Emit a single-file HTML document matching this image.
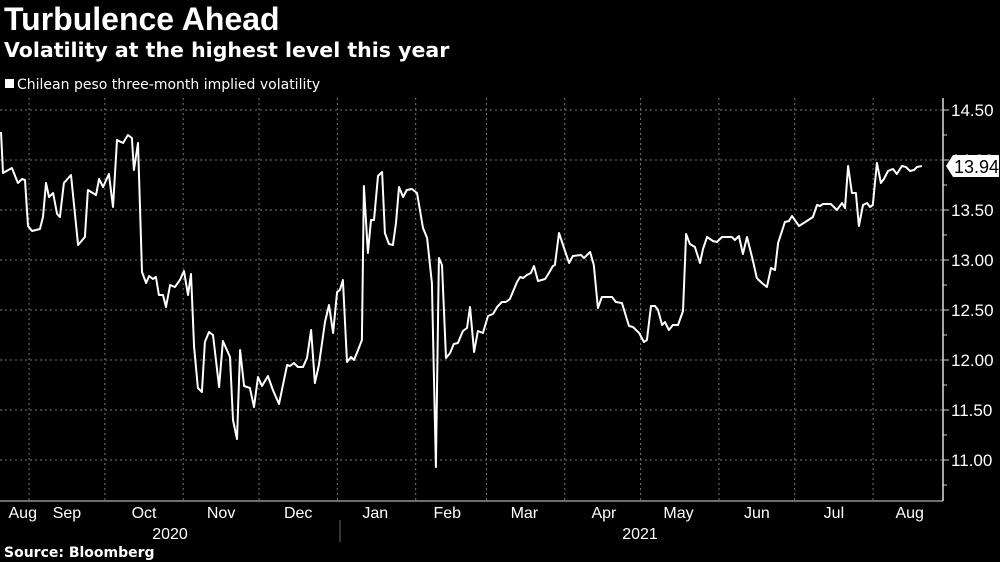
<!DOCTYPE html>
<html><head><meta charset="utf-8">
<style>
body{margin:0;background:#000;width:1000px;height:562px;overflow:hidden;font-family:"Liberation Sans Narrow","Liberation Sans",sans-serif;color:#fff}
svg{position:absolute;left:0;top:0}
</style></head>
<body>
<svg id="chart" width="1000" height="562">
<text x="4" y="30" font-size="32" font-weight="bold" fill="#fff" font-family="Liberation Sans, sans-serif">Turbulence Ahead</text>
<text x="4" y="57" font-size="20.5" font-weight="bold" fill="#fff" font-family="DejaVu Sans, sans-serif">Volatility at the highest level this year</text>
<rect x="5" y="79" width="9" height="9" fill="#fff"/>
<text x="17" y="89" font-size="14" fill="#fff" font-family="DejaVu Sans, sans-serif">Chilean peso three-month implied volatility</text>
<g id="grid"></g>
<g id="axes"></g>
<g id="series"></g>
<text x="4" y="557" font-size="14" font-weight="bold" fill="#fff" font-family="DejaVu Sans, sans-serif">Source: Bloomberg</text>
</svg>
<script>
const days=[0.4,1.2,4.7,7.1,8.7,9.9,11.1,12.7,15.8,17.0,18.2,19.4,21.0,22.6,23.7,25.3,28.1,30.9,33.6,34.8,38.0,39.2,40.8,43.1,44.7,46.3,48.7,50.6,52.2,53.0,54.6,56.2,57.8,59.0,60.5,61.7,62.9,64.5,65.7,67.3,69.2,71.2,72.8,74.4,75.6,76.8,78.3,79.9,81.1,82.7,84.3,86.7,88.2,91.0,92.2,93.8,95.0,96.6,98.9,100.5,102.1,103.7,106.0,108.0,110.4,113.6,114.8,116.3,117.9,119.9,121.5,123.1,124.6,126.2,128.6,130.2,131.8,133.4,134.5,
135.7,137.3,138.9,140.1,141.7,143.2,144.0,145.6,146.8,148.0,149.6,151.2,152.3,153.9,155.5,156.7,157.9,159.5,161.0,163.0,165.0,167.4,169.0,170.9,172.5,173.7,174.9,176.5,178.1,179.6,181.2,183.2,184.8,186.0,187.6,189.1,191.1,193.1,195.1,196.7,198.6,200.2,201.8,204.6,205.8,207.0,208.5,210.1,211.3,212.9,215.7,217.2,218.8,219.6,221.2,222.8,225.2,226.7,229.9,231.1,233.5,235.0,236.6,238.2,242.2,243.7,246.1,248.9,250.5,252.9,254.8,256.0,257.6,259.2,260.4,262.0,263.1,264.7,
266.3,268.3,270.3,271.5,273.0,275.0,277.0,278.2,279.8,282.1,283.7,285.7,289.6,290.8,292.4,294.0,295.6,298.0,299.5,301.5,303.5,305.1,306.7,307.9,310.6,312.2,313.4,316.2,319.3,321.7,323.3,324.5,325.7,328.8,331.2,333.2,334.4,335.6,337.1,338.7,339.9,341.5,343.1,344.3,345.4,347.0,348.6,349.8,351.4,353.4,354.9,356.9,358.5,360.1,361.7,362.9,364.8];
const vols=[14.28,13.87,13.92,13.77,13.81,13.80,13.34,13.29,13.31,13.43,13.77,13.63,13.67,13.46,13.43,13.77,13.85,13.15,13.23,13.70,13.65,13.81,13.73,13.86,13.53,14.20,14.17,14.25,14.22,13.90,14.17,12.88,12.77,12.84,12.81,12.83,12.65,12.65,12.53,12.75,12.73,12.80,12.89,12.65,12.86,12.13,11.72,11.68,12.18,12.28,12.25,11.73,12.19,12.03,11.40,11.21,12.10,11.74,11.72,11.53,11.83,11.74,11.84,11.70,11.56,11.95,11.94,11.97,11.93,11.93,12.02,12.30,11.77,11.95,12.38,12.55,12.27,12.68,12.70,
12.80,11.98,12.03,12.00,12.10,12.20,13.74,13.07,13.40,13.40,13.84,13.88,13.27,13.16,13.15,13.37,13.73,13.63,13.70,13.71,13.67,13.32,13.22,12.77,10.93,13.02,12.95,12.02,12.07,12.16,12.17,12.29,12.32,12.53,12.08,12.29,12.27,12.44,12.46,12.53,12.58,12.58,12.61,12.78,12.83,12.82,12.85,12.87,12.94,12.79,12.81,12.87,12.94,12.95,13.27,13.15,12.97,13.04,13.05,13.02,13.08,12.95,12.52,12.63,12.63,12.58,12.57,12.34,12.33,12.27,12.18,12.20,12.54,12.54,12.50,12.35,12.38,12.30,
12.35,12.35,12.49,13.26,13.16,13.13,12.97,13.11,13.23,13.19,13.18,13.23,13.23,13.20,13.24,13.06,13.23,12.99,12.82,12.77,12.73,12.92,12.90,13.17,13.38,13.39,13.44,13.34,13.39,13.43,13.55,13.54,13.56,13.56,13.50,13.57,13.52,13.94,13.67,13.67,13.34,13.55,13.57,13.53,13.55,13.97,13.77,13.81,13.89,13.91,13.86,13.94,13.93,13.89,13.90,13.93,13.94];
const yTicks=[11.0,11.5,12.0,12.5,13.0,13.5,14.0,14.5];
const yTickLabels=["11.00","11.50","12.00","12.50","13.00","13.50","14.00","14.50"];
const monthStarts=[11.5,41.5,72.5,102.5,133.5,164.5,192.5,223.5,253.5,284.5,314.5,345.5];
const monthLabels=["Aug","Sep","Oct","Nov","Dec","Jan","Feb","Mar","Apr","May","Jun","Jul","Aug"];
const monthLabelDays=[9,26.5,57,87.5,118,148.5,177,207.5,239,268.5,299.5,330,360];
const lastLabel="13.94";

const NS="http://www.w3.org/2000/svg";
const X=d=>d*2.527;
const Y=v=>110+(14.5-v)*100;
function mk(tag,attrs,parent){const e=document.createElementNS(NS,tag);for(const k in attrs)e.setAttribute(k,attrs[k]);parent.appendChild(e);return e;}
const grid=document.getElementById('grid'),axes=document.getElementById('axes'),series=document.getElementById('series');

yTicks.forEach((t,i)=>{
  const l=mk('line',{x1:0,x2:943,y1:Y(t),y2:Y(t),stroke:'#777','stroke-width':1,'stroke-dasharray':'2,3'},grid);
  
  
  const tk=mk('line',{x1:943,x2:949,y1:Y(t),y2:Y(t),stroke:'#ccc'},axes);
  
  
  const mt=mk('line',{x1:943,x2:947,y1:Y(t)+25,y2:Y(t)+25,stroke:'#ccc'},axes);
  
  
  const tx=mk('text',{x:951,y:Y(t)+6,'font-size':17,fill:'#fff'},axes);
  tx.textContent=yTickLabels[i];
  
  
});
monthStarts.forEach(d=>{
  const l=mk('line',{x1:X(d),x2:X(d),y1:98,y2:500,stroke:'#777','stroke-width':1,'stroke-dasharray':'2,3'},grid);
  
  
});
monthLabels.forEach((m,i)=>{
  const t=mk('text',{x:X(monthLabelDays[i]),y:518,'font-size':16,fill:'#fff','text-anchor':'middle'},axes);
  t.textContent=m;
  
  
});
const ax=mk('line',{x1:943,x2:943,y1:98,y2:501,stroke:'#ddd','stroke-width':1.5},axes);


const bx=mk('line',{x1:0,x2:943,y1:501,y2:501,stroke:'#ddd','stroke-width':1},axes);


const sep=mk('line',{x1:340,x2:340,y1:520,y2:542,stroke:'#666'},axes);


[["2020",170],["2021",640]].forEach(([y,x])=>{
  const t=mk('text',{x:x,y:539,'font-size':16,fill:'#fff','text-anchor':'middle'},axes);
  t.textContent=y;
  
  
});
const p=mk('polyline',{points:days.map((d,i)=>X(d).toFixed(1)+','+Y(vols[i]).toFixed(1)).join(' '),fill:'none',stroke:'#fff','stroke-width':2,'stroke-linejoin':'round'},series);


const ly=Y(vols[vols.length-1]);
const tag=mk('polygon',{points:`946,${ly} 953,${ly-11} 999,${ly-11} 999,${ly+11} 953,${ly+11}`,fill:'#fff'},series);


const lt=mk('text',{x:954,y:ly+7,'font-size':18,fill:'#000'},series);
lt.textContent=lastLabel;


</script>
</body></html>
